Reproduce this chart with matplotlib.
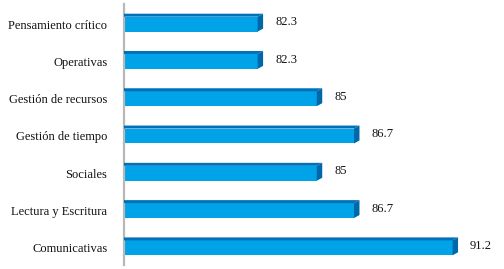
import matplotlib
matplotlib.use("Agg")
import matplotlib.pyplot as plt
from matplotlib.patches import Polygon

# data, top to bottom as in the chart
categories = ["Pensamiento crítico", "Operativas", "Gestión de recursos",
              "Gestión de tiempo", "Sociales", "Lectura y Escritura",
              "Comunicativas"]
values = [82.3, 82.3, 85, 86.7, 85, 86.7, 91.2]
value_labels = ["82.3", "82.3", "85", "86.7", "85", "86.7", "91.2"]

front = "#00a2e8"
top_col = "#0070b8"
side_col = "#0068a8"

xmin, xmax = 76.2, 93.0
bar_h = 0.40
dx = 0.25     # depth offset in x (data units)
dy = 0.08     # depth offset in y (data units)

fig = plt.figure(figsize=(5.04, 2.69), dpi=100)
ax = fig.add_axes([124 / 504, 4 / 269, 368 / 504, 261 / 269])

ys = list(range(len(categories)))
ax.barh(ys, [v - xmin for v in values], left=xmin, height=bar_h,
        color=front, edgecolor="none", zorder=2)

for y, v, lab in zip(ys, values, value_labels):
    top = y - bar_h / 2
    bot = y + bar_h / 2
    # top face
    ax.add_patch(Polygon([(xmin, top), (v, top), (v + dx, top - dy),
                          (xmin, top - dy)], closed=True,
                         color=top_col, lw=0, zorder=3))
    # side face
    ax.add_patch(Polygon([(v, top), (v + dx, top - dy),
                          (v + dx, bot - dy), (v, bot)], closed=True,
                         color=side_col, lw=0, zorder=3))
    ax.text(v + 0.8, y - 0.05, lab, va="center", ha="left",
            fontsize=9, family="Liberation Serif", color="#111111")

ax.set_xlim(xmin, xmax)
ax.set_ylim(6.46, -0.54)
ax.set_yticks(ys)
ax.set_yticklabels(categories, fontsize=9, family="Liberation Serif",
                   color="#111111")
ax.tick_params(axis="y", length=0, pad=12)
ax.set_xticks([])

for s in ["top", "right", "bottom"]:
    ax.spines[s].set_visible(False)
ax.spines["left"].set_color("#b8b8b8")
ax.spines["left"].set_linewidth(1.6)

fig.savefig("out.png", dpi=100)
